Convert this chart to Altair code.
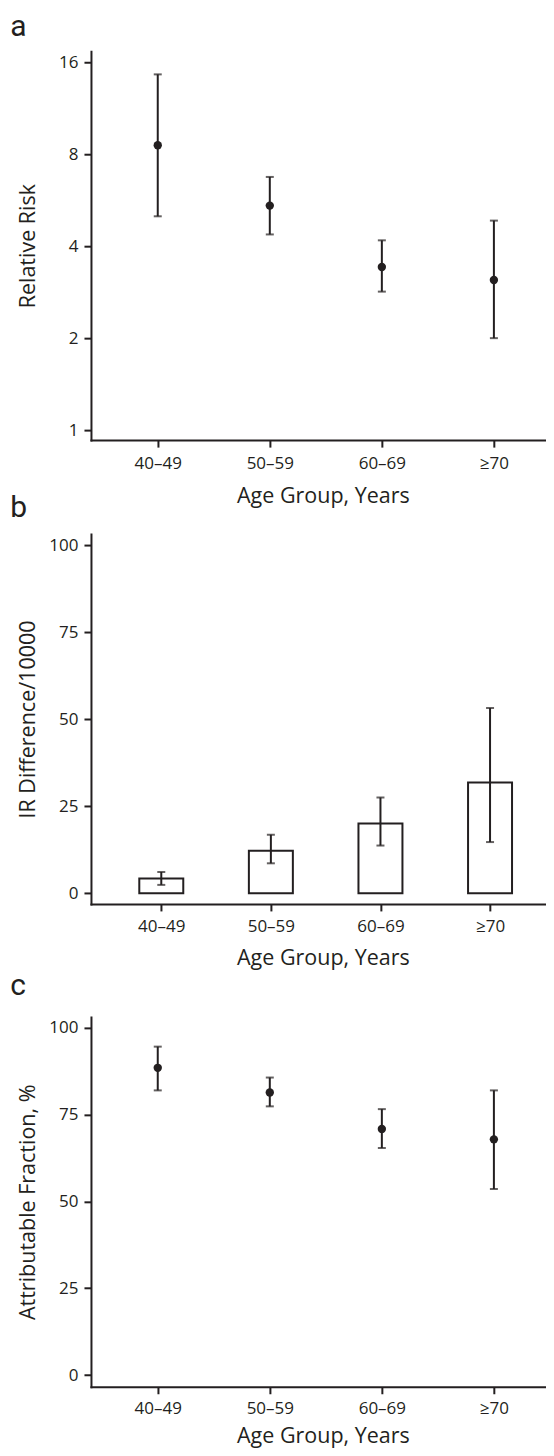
import altair as alt
import pandas as pd

# ---- data ----
ages = ["40–49", "50–59", "60–69", "≥70"]
age_pos = [0, 1, 2, 3]

rr_est = [8.56, 5.43, 3.42, 3.10]
rr_low = [5.01, 4.37, 2.84, 2.00]
rr_high = [14.6, 6.74, 4.18, 4.85]

ird_est = [4.2, 12.2, 20.0, 31.8]
ird_low = [2.4, 8.6, 13.7, 14.7]
ird_high = [6.1, 16.8, 27.5, 53.2]

af_est = [88.5, 81.4, 70.9, 67.9]
af_low = [82.0, 77.4, 65.4, 53.6]
af_high = [94.6, 85.7, 76.6, 82.0]

rr_ticks = [1, 2, 4, 8, 16]
lin_ticks = [0, 25, 50, 75, 100]
panel_labels = ["a", "b", "c"]

INK = "#231f20"
FONT = "Open Sans"
LABEL_FONT = "Roboto"
PLOT_W = 455.2

label_expr = "[" + ",".join("'%s'" % a for a in ages) + "][datum.value]"


def make_df(est, low, high):
    return pd.DataFrame({"pos": age_pos, "age": ages, "est": est, "low": low, "high": high})


def x_enc(title_y, label_pad):
    return alt.X(
        "pos:Q",
        scale=alt.Scale(domain=[-0.596, 3.465], nice=False, zero=False),
        axis=alt.Axis(values=age_pos, labelExpr=label_expr, title="Age Group, Years",
                      titleX=232, titleY=title_y, titleBaseline="alphabetic",
                      titleAlign="center", labelFlush=False, labelPadding=label_pad),
    )


def y_enc(field, scale, title, values, fmt):
    return alt.Y(
        f"{field}:Q", scale=scale,
        axis=alt.Axis(values=values, format=fmt, title=title, titleX=-56.8,
                      titleBaseline="alphabetic", titleAngle=270, labelFlush=False),
    )


def panel(df, label, label_dy, title_y, label_pad, height, scale, ytitle, values, fmt, bars=False):
    base = alt.Chart(df)
    x = x_enc(title_y, label_pad)
    layers = []
    if bars:
        layers.append(base.mark_bar(fill="white", stroke=INK, strokeWidth=2, size=44).encode(
            x=x, y=y_enc("est", scale, ytitle, values, fmt), y2=alt.datum(0)))
    layers.append(base.mark_rule(color=INK, strokeWidth=2).encode(
        x=x, y=y_enc("low", scale, ytitle, values, fmt), y2="high:Q"))
    layers.append(base.mark_tick(orient="horizontal", size=8, thickness=2, color=INK).encode(
        x=x, y=y_enc("low", scale, ytitle, values, fmt)))
    layers.append(base.mark_tick(orient="horizontal", size=8, thickness=2, color=INK).encode(
        x=x, y=y_enc("high", scale, ytitle, values, fmt)))
    if not bars:
        layers.append(base.mark_circle(size=70, opacity=1, color=INK).encode(
            x=x, y=y_enc("est", scale, ytitle, values, fmt)))
    # panel letter
    layers.append(alt.Chart(pd.DataFrame({"label": [label]})).mark_text(
        align="left", baseline="alphabetic", fontSize=30, font=LABEL_FONT, color=INK
    ).encode(x=alt.value(-80.8), y=alt.value(label_dy), text="label:N"))
    return alt.layer(*layers).properties(width=PLOT_W, height=height)


pa = panel(make_df(rr_est, rr_low, rr_high), panel_labels[0], -15, 62, 8, 389,
           alt.Scale(type="log", base=2, domain=[0.9275, 17.38], nice=False),
           "Relative Risk", rr_ticks, "d")
pb = panel(make_df(ird_est, ird_low, ird_high), panel_labels[1], -16.7, 61, 8, 370,
           alt.Scale(domain=[-3.07, 103.16], nice=False, zero=False),
           "IR Difference/10000", lin_ticks, "d", bars=True)
pc = panel(make_df(af_est, af_low, af_high), panel_labels[2], -3, 55.5, 7, 389,
           alt.Scale(domain=[-3.37, 103.17], nice=False, zero=False, range=[389, 19]),
           "Attributable Fraction, %", lin_ticks, "d")

chart = alt.vconcat(pa, pb, pc, spacing=94, bounds="flush").properties(
    padding={"left": 2, "top": 4, "right": 0, "bottom": 1},
    background="white",
).configure_view(stroke=None).configure_axis(
    domainColor=INK, domainWidth=2, domainCap="square", tickColor=INK, tickWidth=2, tickSize=7,
    labelFont=FONT, labelFontSize=17, labelColor=INK,
    titleFont=FONT, titleFontSize=21.5, titleFontWeight="normal", titleColor=INK, grid=False,
).configure_axisY(labelPadding=6)

chart.save("out.html", embed_options={"renderer": "svg", "actions": False})
